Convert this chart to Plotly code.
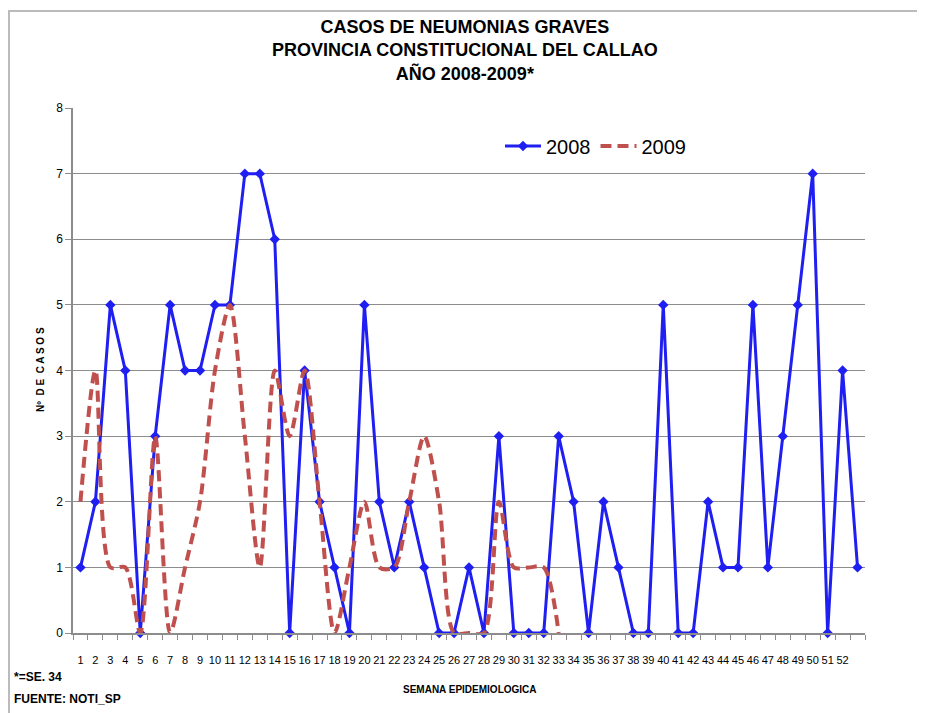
import plotly.graph_objects as go

weeks = list(range(1, 54))
tick_labels = [str(i) for i in range(1, 53)] + [""]

cases_2008 = [1, 2, 5, 4, 0, 3, 5, 4, 4, 5, 5, 7, 7, 6, 0, 4, 2, 1, 0, 5,
              2, 1, 2, 1, 0, 0, 1, 0, 3, 0, 0, 0, 3, 2, 0, 2, 1, 0, 0, 5,
              0, 0, 2, 1, 1, 5, 1, 3, 5, 7, 0, 4, 1]
cases_2009 = [2, 4, 1, 1, 0, 3, 0, 1, 2, 4, 5, 3, 1, 4, 3, 4, 2, 0, 1, 2,
              1, 1, 2, 3, 2, 0, 0, 0, 2, 1, 1, 1, 0]

# page body has an 8px margin; work in reference pixel coordinates
OFF = 8
W, H = 925 - OFF, 713 - OFF
PL, PR, PT, PB = 73, 865, 108, 633  # plot area in reference pixels
L, T = PL - OFF, PT - OFF
R, B = W - (PR - OFF), H - (PB - OFF)
PW, PH = PR - PL, PB - PT


def px(x):
    return (x - PL) / PW


def py(y):
    return (PB - y) / PH


FONT = "Liberation Sans, Arial, sans-serif"

fig = go.Figure()
fig.add_trace(go.Scatter(
    x=weeks[:len(cases_2008)], y=cases_2008, name="2008",
    mode="lines+markers",
    line=dict(color="#1F1FF2", width=3),
    marker=dict(symbol="diamond", size=8, color="#1F1FF2"),
    cliponaxis=False,
))
fig.add_trace(go.Scatter(
    x=weeks[:len(cases_2009)], y=cases_2009, name="2009",
    mode="lines",
    line=dict(color="#C0504D", width=4, dash="11px,6px", shape="spline", smoothing=0.8),
    cliponaxis=False,
))

fig.update_layout(
    width=W, height=H,
    margin=dict(l=L, r=R, t=T, b=B, pad=0),
    paper_bgcolor="white", plot_bgcolor="white",
    showlegend=True,
    legend=dict(orientation="h", x=px(500), y=py(146), xanchor="left", yanchor="middle",
                font=dict(family=FONT, size=20, color="black"),
                bgcolor="rgba(0,0,0,0)", itemwidth=36, tracegroupgap=0),
    font=dict(family=FONT, color="black"),
)

fig.update_xaxes(
    range=[0.5, 53.5], tickmode="array", tickvals=weeks, ticktext=tick_labels,
    tickangle=0,
    ticks="", showgrid=False, showline=True, linecolor="#8C8C8C", linewidth=1.5,
    tickfont=dict(size=11, family=FONT),
    ticklabelstandoff=16,
    minor=dict(tickmode="linear", tick0=0.5, dtick=1, ticks="outside", ticklen=5,
               tickcolor="#8C8C8C", showgrid=False),
    zeroline=False,
)
fig.update_yaxes(
    range=[0, 8], dtick=1, tick0=0, showgrid=True, gridcolor="#8C8C8C", gridwidth=1.2,
    showline=True, linecolor="#8C8C8C", linewidth=1.5, ticks="outside", ticklen=6,
    tickcolor="#8C8C8C", zeroline=False,
    tickfont=dict(size=12, family=FONT),
)

title_lines = ["CASOS DE NEUMONIAS GRAVES", "PROVINCIA CONSTITUCIONAL DEL CALLAO", "AÑO 2008-2009*"]
fig.add_annotation(
    text="<b>" + "<br>".join(title_lines) + "</b>",
    xref="paper", yref="paper", x=px(465), y=py(15), xanchor="center", yanchor="top",
    showarrow=False, align="center",
    font=dict(family=FONT, size=18, color="black"),
)
fig.add_annotation(
    text="<b>Nº  D E  C A S O S</b>", textangle=-90,
    xref="paper", yref="paper", x=px(40), y=py(370), xanchor="center", yanchor="middle",
    showarrow=False, font=dict(family=FONT, size=10, color="black"),
)
fig.add_annotation(
    text="<b>SEMANA EPIDEMIOLOGICA</b>",
    xref="paper", yref="paper", x=px(470), y=py(689), xanchor="center", yanchor="middle",
    showarrow=False, font=dict(family=FONT, size=10, color="black"),
)
fig.add_annotation(
    text="<b>*=SE. 34</b>",
    xref="paper", yref="paper", x=px(12), y=py(677), xanchor="left", yanchor="middle",
    showarrow=False, font=dict(family=FONT, size=12, color="black"),
)
fig.add_annotation(
    text="<b>FUENTE: NOTI_SP</b>",
    xref="paper", yref="paper", x=px(12), y=py(699), xanchor="left", yanchor="middle",
    showarrow=False, font=dict(family=FONT, size=12, color="black"),
)

# chart frame (top and left edges)
fig.add_shape(type="line", xref="paper", yref="paper", x0=px(OFF), x1=px(918),
              y0=py(3 + OFF), y1=py(3 + OFF), line=dict(color="#BBBBBB", width=2), layer="below")
fig.add_shape(type="line", xref="paper", yref="paper", x0=px(1 + OFF), x1=px(1 + OFF),
              y0=py(3 + OFF), y1=py(713), line=dict(color="#BBBBBB", width=2), layer="below")

fig.write_html("out.html")
